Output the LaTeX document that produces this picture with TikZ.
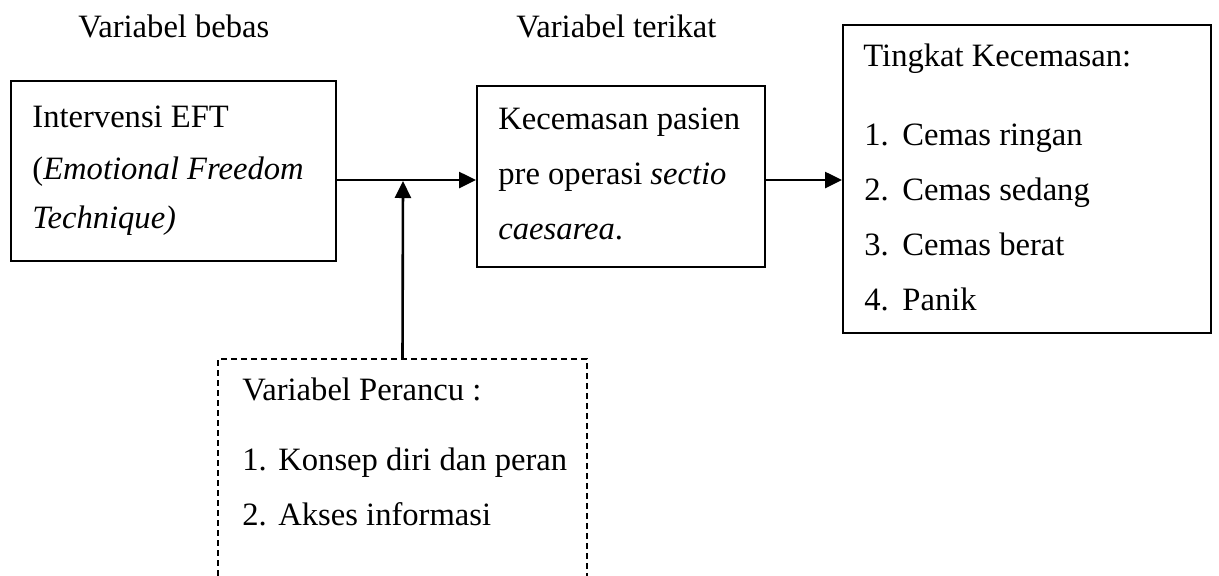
\documentclass[tikz,border=0pt]{standalone}
\usepackage{fontspec}
\setmainfont{Liberation Serif}
\usetikzlibrary{arrows.meta,fit}
\begin{document}
\begin{tikzpicture}[x=0.5pt,y=-0.5pt,
  every node/.style={font=\fontsize{16.3pt}{20pt}\selectfont},
  box/.style={draw,line width=1pt,inner sep=0pt},
  dbox/.style={draw,line width=1pt,inner sep=0pt,dash pattern=on 3pt off 2pt},
  txt/.style={anchor=base west,inner sep=0pt},
  arr/.style={line width=1.3pt,-{Triangle[length=8.5pt,width=8pt]}}]
\clip (0,0) rectangle (1219,575);

% column headings
\node[txt] (hbebas) at (78,37) {Variabel bebas};
\node[txt] (hterikat) at (516,37) {Variabel terikat};

% independent variable
\node[box,fit={(11,81) (336,261)}] (b1) {};
\node[txt] (b1a) at (32,127) {Intervensi EFT};
\node[txt] (b1b) at (32,179) {(\textit{Emotional Freedom}};
\node[txt] (b1c) at (32,228) {\textit{Technique)}};

% dependent variable
\node[box,fit={(477,86) (765,267)}] (b2) {};
\node[txt] (b2a) at (498,129) {Kecemasan pasien};
\node[txt] (b2b) at (498,184) {pre operasi \textit{sectio}};
\node[txt] (b2c) at (498,239) {\textit{caesarea}.};

% anxiety levels
\node[box,fit={(843,25) (1211,333)}] (b3) {};
\node[txt] (b3h) at (863,66) {Tingkat Kecemasan:};
\node[txt] (b3n1) at (864,145) {1.};
\node[txt] (b3i1) at (902,145) {Cemas ringan};
\node[txt] (b3n2) at (864,200) {2.};
\node[txt] (b3i2) at (902,200) {Cemas sedang};
\node[txt] (b3n3) at (864,255) {3.};
\node[txt] (b3i3) at (902,255) {Cemas berat};
\node[txt] (b3n4) at (864,310) {4.};
\node[txt] (b3i4) at (902,310) {Panik};

% confounding variables (box runs past the lower edge)
\node[dbox,fit={(218,359) (587,640)}] (conf) {};
\node[txt] (cfh) at (242,400) {Variabel Perancu :};
\node[txt] (cfn1) at (242,470) {1.};
\node[txt] (cfi1) at (278,470) {Konsep diri dan peran};
\node[txt] (cfn2) at (242,525) {2.};
\node[txt] (cfi2) at (278,525) {Akses informasi};

% connectors
\coordinate (mid) at (403,180);
\draw[arr] (b1.east |- mid) -- (b2.west |- mid);
\draw[arr] (b2.east |- mid) -- (b3.west |- mid);
\draw[arr] (conf.north) -- ([yshift=-0.5pt]mid);
\end{tikzpicture}
\end{document}
